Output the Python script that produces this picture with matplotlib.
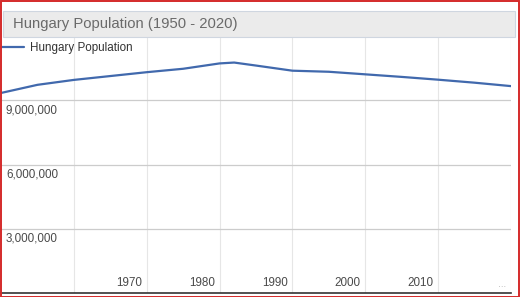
import matplotlib.pyplot as plt
from matplotlib.patches import Rectangle

plt.rcParams['font.family'] = ['Liberation Sans', 'DejaVu Sans']

# population of Hungary
anos = [1950, 1955, 1960, 1965, 1970, 1975, 1980, 1982, 1985, 1990, 1995, 2000, 2005, 2010, 2015, 2020]
populacao = [9.34, 9.72, 9.95, 10.13, 10.31, 10.47, 10.72, 10.76, 10.62, 10.38, 10.33, 10.21, 10.09, 9.96, 9.82, 9.66]
populacao = [v * 1e6 for v in populacao]

anos_grade = [1960, 1970, 1980, 1990, 2000, 2010, 2020]
rotulos_x = ['', '1970', '1980', '1990', '2000', '2010', '…']
valores_y = [3e6, 6e6, 9e6]
rotulos_y = ['3,000,000', '6,000,000', '9,000,000']

W, H = 520, 297
fig = plt.figure(figsize=(W / 100, H / 100), dpi=100)
fig.patch.set_facecolor('white')

ax = fig.add_axes([1 / W, (H - 293) / H, 510 / W, (293 - 36) / H])
ax.set_xlim(1950, 2020)
ax.set_ylim(0, 12e6)
for s in ax.spines.values():
    s.set_visible(False)
ax.set_xticks([])
ax.set_yticks([])

for a in anos_grade:
    ax.axvline(a, color='#e6e6e6', lw=0.8, zorder=1)
for v in valores_y:
    ax.axhline(v, color='#cccccc', lw=0.9, zorder=1)
ax.axhline(0, color='#333333', lw=1.2, zorder=3, clip_on=False)

ax.plot(anos, populacao, color='#4169ad', lw=1.6, zorder=4, label='Hungary Population',
        solid_capstyle='round', solid_joinstyle='round')

for a, r in zip(anos_grade, rotulos_x):
    pequeno = r == '…'
    ax.annotate(r, xy=(a, 0), xycoords=('data', 'axes fraction'), xytext=(-5, 4),
                textcoords='offset pixels', ha='right', va='bottom',
                fontsize=6 if pequeno else 8.4, color='#aaaaaa' if pequeno else '#4a4a4a')
for v, r in zip(valores_y, rotulos_y):
    ax.annotate(r, xy=(0, v), xycoords=('axes fraction', 'data'), xytext=(5, -4),
                textcoords='offset pixels', ha='left', va='top', fontsize=8.4, color='#4a4a4a')

leg = ax.legend(loc='upper left', bbox_to_anchor=(1 / W, (H - 42) / H), bbox_transform=fig.transFigure,
                frameon=False, fontsize=8.4, handlelength=2.0, handletextpad=0.5, borderpad=0, borderaxespad=0)
for t in leg.get_texts():
    t.set_color('#333333')

# title box
fig.patches.append(Rectangle((3 / W, (H - 37) / H), 512 / W, 26 / H, transform=fig.transFigure,
                             facecolor='#ebebeb', edgecolor='#cfd6e0', lw=0.8, zorder=5))
fig.text(13 / W, (H - 24) / H, 'Hungary Population (1950 - 2020)', fontsize=10.7,
         color='#6a6a6a', ha='left', va='center', zorder=6)

# red border
fig.patches.append(Rectangle((0.5 / W, 0.5 / H), (W - 1.5) / W, (H - 1.5) / H, transform=fig.transFigure,
                             facecolor='none', edgecolor='#d42a2a', lw=1.4, zorder=10))

fig.savefig('out.png', dpi=100)
